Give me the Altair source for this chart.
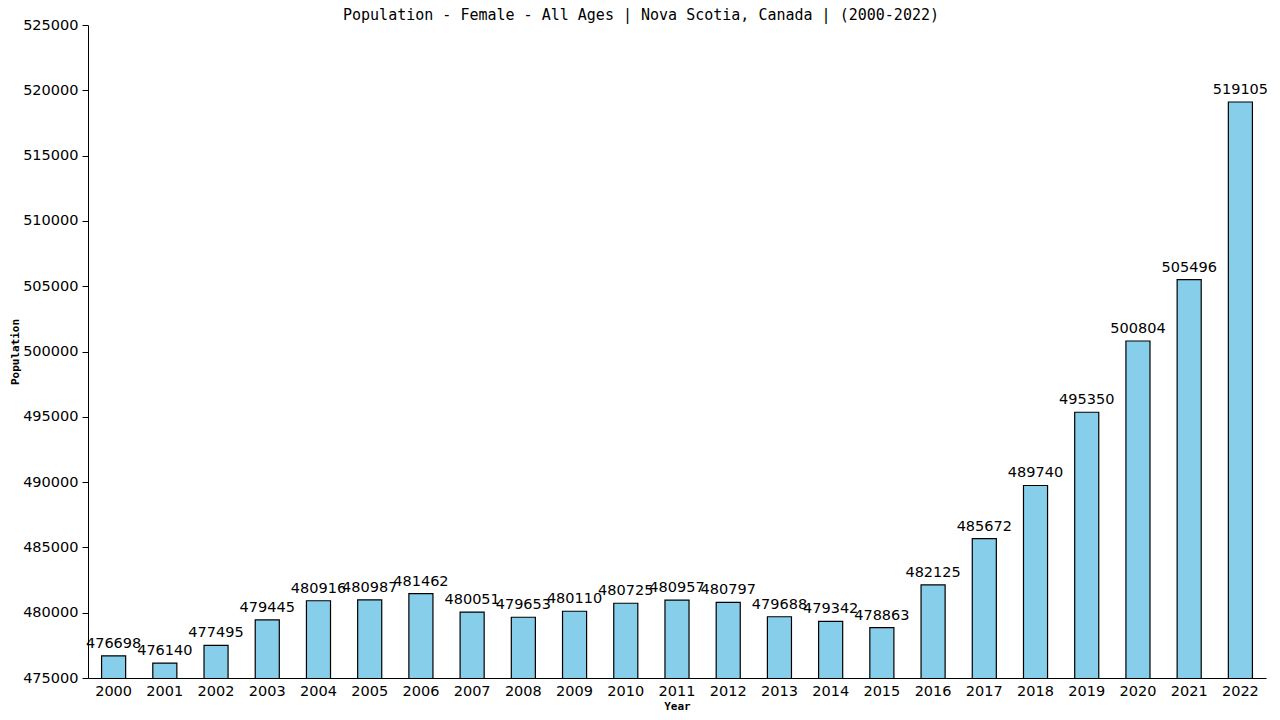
import altair as alt
import pandas as pd

years = [str(y) for y in range(2000, 2023)]
population = [476698, 476140, 477495, 479445, 480916, 480987, 481462, 480051,
              479653, 480110, 480725, 480957, 480797, 479688, 479342, 478863,
              482125, 485672, 489740, 495350, 500804, 505496, 519105]
y_ticks = list(range(475000, 525001, 5000))

df = pd.DataFrame({"Year": years, "Population": population})

x = alt.X("Year:N", title="Year", sort=years,
          scale=alt.Scale(paddingInner=0.53, paddingOuter=0.265),
          axis=alt.Axis(labelAngle=0, ticks=False, labelPadding=6,
                        labelFont="DejaVu Sans", labelFontSize=14.5, labelColor="black",
                        titleFont="DejaVu Sans Mono", titleFontSize=11, titleFontWeight="bold",
                        titlePadding=3, domainColor="black", titleColor="black"))
y = alt.Y("Population:Q", title="Population",
          scale=alt.Scale(domain=[475000, 525000], nice=False, zero=False),
          axis=alt.Axis(values=y_ticks, format="d", grid=False, tickSize=6, tickColor="black",
                        labelPadding=4, labelFont="DejaVu Sans", labelFontSize=14.5,
                        labelColor="black", titleFont="DejaVu Sans Mono", titleFontSize=11,
                        titleFontWeight="bold", titlePadding=2, domainColor="black",
                        titleColor="black"))

bars = alt.Chart(df).mark_bar(color="#87CEEB", stroke="black", strokeWidth=1.2, clip=True).encode(
    x=x, y=y)
labels = alt.Chart(df).mark_text(font="DejaVu Sans", fontSize=14.5, color="black",
                                 baseline="alphabetic", dy=-8).encode(
    x=alt.X("Year:N", sort=years), y="Population:Q", text=alt.Text("Population:Q", format="d"))

chart = (bars + labels).properties(
    width=1178, height=653,
    title=alt.TitleParams("Population - Female - All Ages | Nova Scotia, Canada |  (2000-2022)",
                          font="DejaVu Sans Mono", fontSize=15, fontWeight="normal",
                          color="black", anchor="middle", dx=-36, dy=13, offset=7),
    autosize=alt.AutoSizeParams(type="none"),
    padding={"left": 80, "top": 17, "right": 6, "bottom": 34},
    background="white",
).configure_view(stroke=None)

chart.save("out.html", embed_options={"renderer": "svg", "actions": False})
